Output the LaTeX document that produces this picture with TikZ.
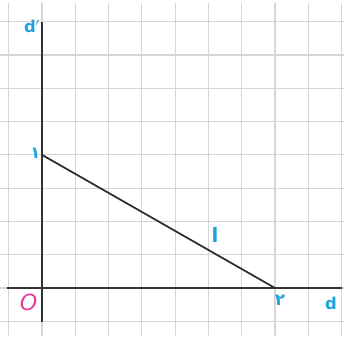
\documentclass[tikz,border=0pt]{standalone}
\usepackage{fontspec}
\newfontfamily\rotulofont{DejaVu Sans}
\newfontfamily\arabicfont[Script=Arabic]{DejaVu Sans}
\usetikzlibrary{positioning}
\definecolor{grade}{HTML}{D6D6D6}
\definecolor{eixo}{HTML}{333333}
\definecolor{ciano}{HTML}{1FA3DD}
\definecolor{rosa}{HTML}{E2409B}

\begin{document}
\begin{tikzpicture}[
  grade/.style={draw=grade,line width=1pt},
  eixo/.style={draw=eixo,line width=1.5pt},
  segmento/.style={draw=eixo!85!black,line width=1.5pt},
  rotulo/.style={text=ciano,inner sep=0pt,font=\rotulofont\bfseries\fontsize{14}{16}\selectfont},
  numero/.style={text=ciano,inner sep=0pt,font=\arabicfont\bfseries\fontsize{14}{16}\selectfont}
]
  \useasboundingbox (-1.26,-1.44) rectangle (9.07,8.65);
  \draw[grade] (-1.26,-1.44) grid (9.07,8.55);
  % eixos
  \coordinate (O) at (0,0);
  \coordinate (xmin) at (-1.04,0);
  \coordinate (xmax) at (9.0,0);
  \coordinate (ymin) at (0,-1.02);
  \coordinate (ymax) at (0,8.0);
  \draw[eixo] (xmin) -- (xmax);
  \draw[eixo] (ymin) -- (ymax);
  % pontos
  \coordinate (p1) at (0,4);
  \coordinate (p2) at (7,0);
  \draw[segmento] (p1) -- (p2);
  % rotulos
  \node[rotulo] (dy) at (-0.3,7.87) {d$'$};
  \node[rotulo] (dx) at (8.68,-0.45) {d};
  \node[rotulo,font=\rotulofont\bfseries\fontsize{17}{19}\selectfont] (reta) at (5.2,1.6) {l};
  \node[numero] (um) at (-0.2,4.05) {۱};
  \node[numero] (dois) at (7.15,-0.38) {۲};
  \node[text=rosa,inner sep=0pt,font=\rotulofont\itshape\fontsize{19}{21}\selectfont] (origem) at (-0.4,-0.42) {O};
\end{tikzpicture}
\end{document}
